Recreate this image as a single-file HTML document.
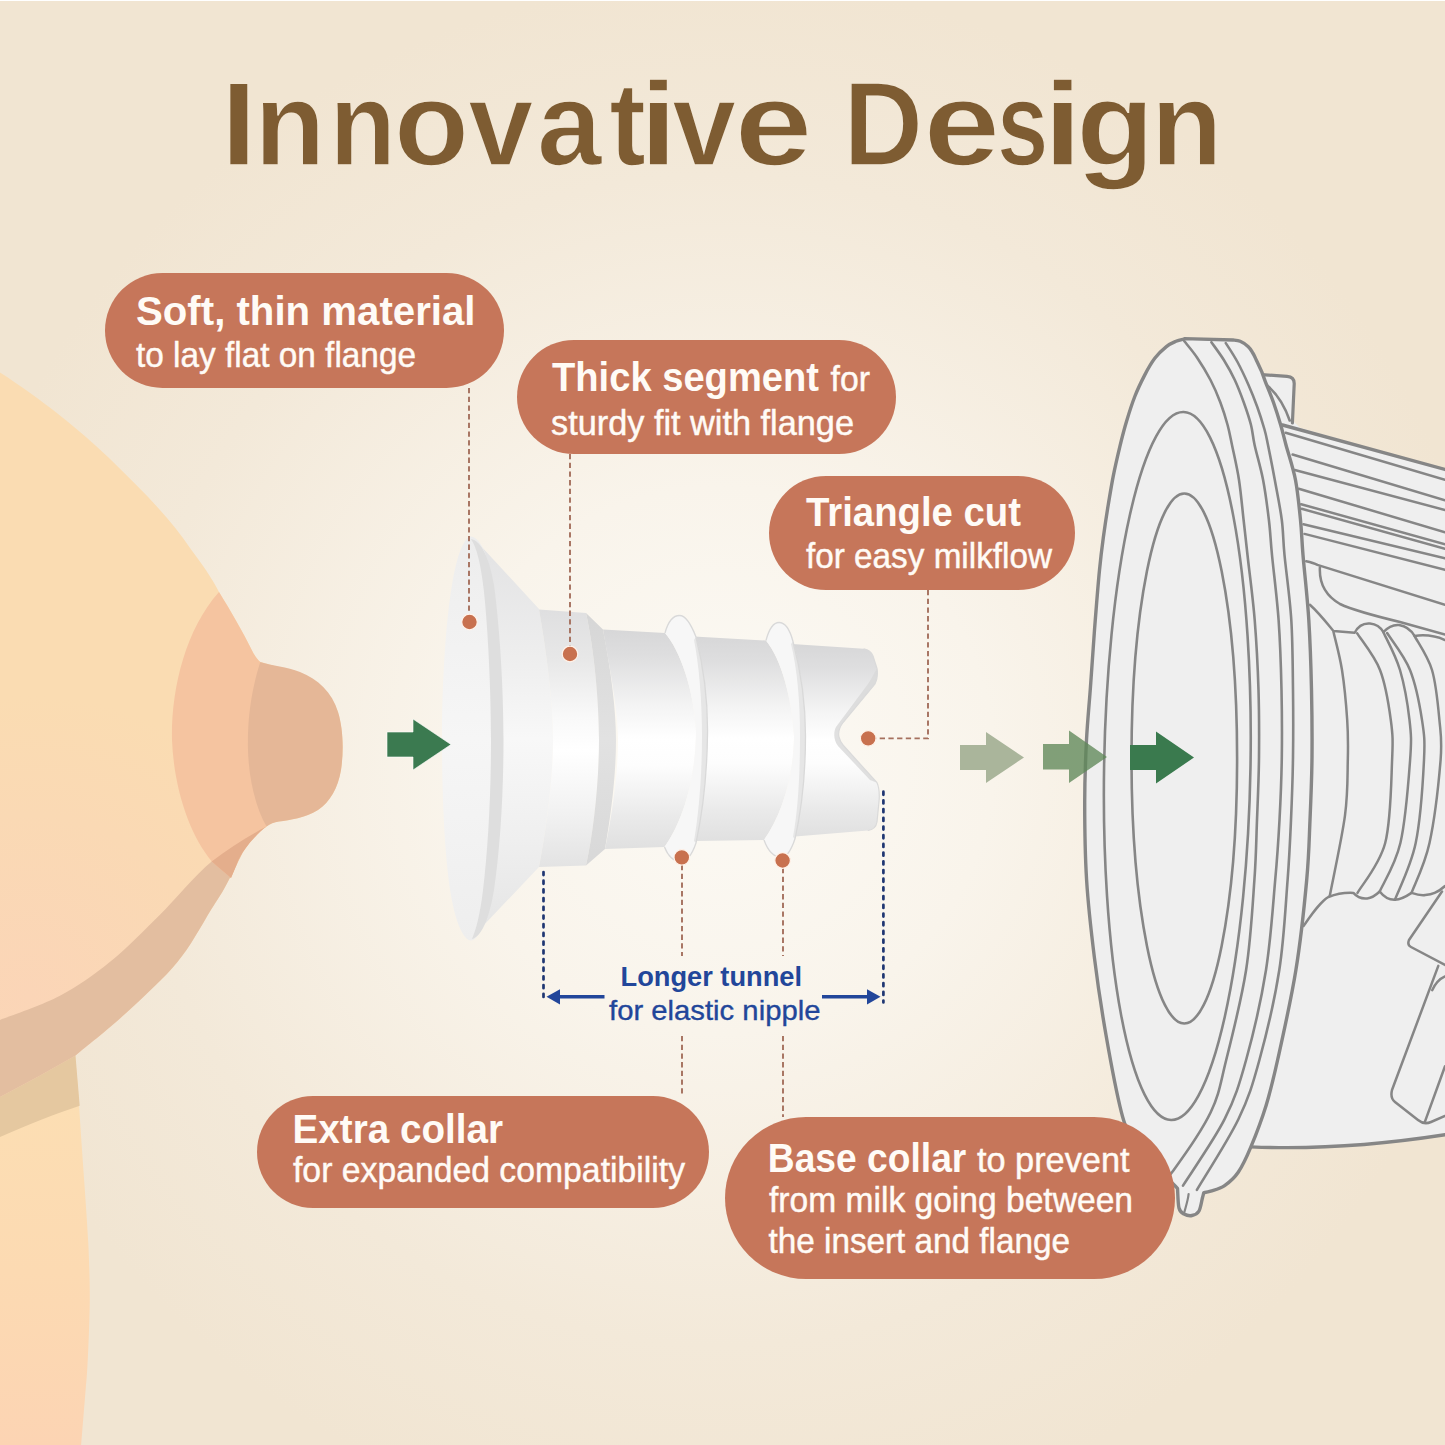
<!DOCTYPE html>
<html><head><meta charset="utf-8">
<style>
html,body{margin:0;padding:0;width:1445px;height:1445px;overflow:hidden;background:#F1E6D3;}
svg{display:block;font-family:"Liberation Sans",sans-serif;}
</style></head>
<body>
<svg width="1445" height="1445" viewBox="0 0 1445 1445">
<defs>
  <radialGradient id="bg" cx="720" cy="760" r="780" gradientUnits="userSpaceOnUse">
    <stop offset="0" stop-color="#FCFAF5"/>
    <stop offset="0.35" stop-color="#F9F4EB"/>
    <stop offset="0.75" stop-color="#F3E9D9"/>
    <stop offset="1" stop-color="#F1E5D2"/>
  </radialGradient>
  <radialGradient id="brg" cx="30" cy="995" r="300" gradientUnits="userSpaceOnUse">
    <stop offset="0" stop-color="#FBD5B7"/>
    <stop offset="0.6" stop-color="#FAD9B4"/>
    <stop offset="1" stop-color="#FADCB2"/>
  </radialGradient>
  <linearGradient id="torsoG" x1="0" y1="1100" x2="0" y2="1445" gradientUnits="userSpaceOnUse">
    <stop offset="0" stop-color="#FCDEB3"/>
    <stop offset="0.5" stop-color="#FCDAB2"/>
    <stop offset="1" stop-color="#FCD4B3"/>
  </linearGradient>
  <linearGradient id="tubeG" x1="0" y1="0" x2="0" y2="1">
    <stop offset="0" stop-color="#D7D7D8"/>
    <stop offset="0.12" stop-color="#DEDEDF"/>
    <stop offset="0.35" stop-color="#F4F4F4"/>
    <stop offset="0.5" stop-color="#FFFFFF"/>
    <stop offset="0.62" stop-color="#FDFDFD"/>
    <stop offset="0.85" stop-color="#EAEAEA"/>
    <stop offset="1" stop-color="#E0E0E0"/>
  </linearGradient>
  <linearGradient id="thickG" x1="0" y1="0" x2="0" y2="1">
    <stop offset="0" stop-color="#DFDFE0"/>
    <stop offset="0.2" stop-color="#E8E8E8"/>
    <stop offset="0.42" stop-color="#F9F9F9"/>
    <stop offset="0.55" stop-color="#FFFFFF"/>
    <stop offset="0.8" stop-color="#F1F1F1"/>
    <stop offset="1" stop-color="#E3E3E3"/>
  </linearGradient>
  <linearGradient id="chamG" x1="0" y1="0" x2="0" y2="1">
    <stop offset="0" stop-color="#D6D6D6"/>
    <stop offset="0.5" stop-color="#E2E2E2"/>
    <stop offset="1" stop-color="#D8D8D8"/>
  </linearGradient>
  <linearGradient id="coneG" x1="0" y1="0" x2="0" y2="1">
    <stop offset="0" stop-color="#E2E2E3"/>
    <stop offset="0.3" stop-color="#EEEEEE"/>
    <stop offset="0.5" stop-color="#F8F8F8"/>
    <stop offset="0.75" stop-color="#EFEFEF"/>
    <stop offset="1" stop-color="#E4E4E4"/>
  </linearGradient>
  <linearGradient id="faceG" x1="0" y1="0" x2="0" y2="1">
    <stop offset="0" stop-color="#EDEDED"/>
    <stop offset="0.5" stop-color="#F6F6F6"/>
    <stop offset="1" stop-color="#EEEEEE"/>
  </linearGradient>
</defs>
<rect x="0" y="0" width="1445" height="1445" fill="url(#bg)"/>
<rect x="0" y="0" width="1445" height="1" fill="#FFFFFF"/>

<!-- BREAST -->
<g id="breast">
  <!-- torso strip -->
  <path d="M0,1000 L74.7,1050 L78.8,1100 C81,1140 86,1200 88.3,1243.2 C90,1280 90,1300 89.5,1314.8 C88.5,1350 87,1380 85.9,1386.4 L81.1,1445 L0,1445 Z" fill="url(#torsoG)"/>
  <path d="M0,1090 L75,1050 L79.7,1105.8 C55,1114 30,1124 0,1137 Z" fill="#E5C8A0"/>
  <!-- breast main -->
  <path id="brs" d="M0,372.4 C40,398 80,430 108,457 C140,488 170,518 190,548 C202,564 212,578 219,592
     C230,610 243,632 251.6,649.7 C254,655 257,659 260.3,662.1
     C272,665 286,669 300,674 C318,681 332,694 338,712 C343,728 344,750 341,770 C338,788 330,802 318,810 C305,818 290,820 279,821.6 C274,822.5 270,824 266.6,826.6 C263.8,828.8 254.9,833.8 250.0,840.0 C245.1,846.2 241.3,855.8 237.0,864.0 C232.7,872.2 228.6,881.0 224.0,889.0 C219.4,897.0 215.0,903.2 209.5,912.3 C204.0,921.4 197.0,934.1 190.8,943.4 C184.6,952.7 179.4,960.0 172.1,968.3 C164.8,976.6 156.5,984.3 147.2,993.2 C137.8,1002.1 128.1,1011.4 116.0,1021.9 C103.9,1032.4 81.6,1050.3 74.7,1056.0
     C50,1070 25,1084 0,1097 Z" fill="url(#brg)"/>
  <!-- shadow band -->
  <path id="shband" d="M266.6,826.6 C263.8,828.8 254.9,833.8 250.0,840.0 C245.1,846.2 241.3,855.8 237.0,864.0 C232.7,872.2 228.6,881.0 224.0,889.0 C219.4,897.0 215.0,903.2 209.5,912.3 C204.0,921.4 197.0,934.1 190.8,943.4 C184.6,952.7 179.4,960.0 172.1,968.3 C164.8,976.6 156.5,984.3 147.2,993.2 C137.8,1002.1 128.1,1011.4 116.0,1021.9 C103.9,1032.4 81.6,1050.3 74.7,1056.0 C50,1070 25,1084 0,1097 L0,1019.9 C10.0,1015.9 41.7,1005.3 60.0,995.7 C78.3,986.1 93.2,975.6 109.8,962.1 C126.4,948.6 142.7,931.8 159.7,915.0 C176.7,898.2 194.2,875.9 212.0,861.2 C229.8,846.5 257.5,832.4 266.6,826.6 Z" fill="#E3BEA0"/>
  <!-- areola -->
  <clipPath id="areolaClip"><path id="areolaP" d="M219,592 C230,610 243,632 251.6,649.7 C254,655 257,659 260.3,662.1 L266.6,826.6 C259,832 243,848 237,864 L231,878 C224,872 217,866 211.8,861.4 C190,835 174,790 172,740 C171,690 185,630 219,592 Z"/></clipPath>
  <use href="#areolaP" fill="#F5C4A0"/>
  <path d="M266.6,826.6 C259,832 243,848 237,864 L231,880 L200,880 L200,861 C205,861 210,861 212,861.2 C230,848 248,836 266.6,826.6 Z" fill="#E4AE8C" clip-path="url(#areolaClip)"/>
  <!-- nipple -->
  <path d="M260.3,662.1 C272,666 287,667 300,672 C318,679 332,692 338,712 C343,728 344,750 341,770 C338,788 330,802 318,810 C305,818 290,820 279,821.6 C274,822.5 270,824 266.6,826.6
     C256,808 248.5,780 247.9,746.8 C247.5,712 253,685 260.3,662.1 Z" fill="#E5B797"/>
</g>

<!-- INSERT -->
<g id="insert">
  <!-- flange cone outer surface -->
  <path d="M471,537 C474,538 477,541 480,545 L539,609 C546,650 553,700 553,740 C553,780 546,830 539,867 L482,927 C478,934 474,940 471,940 Z" fill="url(#coneG)"/>
  <!-- flange rim face (ellipse) -->
  <path d="M471,536.5 C478,537 486,548 491,575 C498,620 502,690 502,740 C502,800 497,860 490,900 C485,925 478,940 471,940.5 C464,940 456,925 451,895 C445,860 442,800 442,740 C442,680 446,620 452,585 C457,555 464,537 471,536.5 Z" fill="url(#faceG)"/>
  <!-- rim back band -->
  <path d="M471,539 C481,541 489,556 494,585 C500,630 503.5,690 503.5,740 C503.5,795 500,850 494,890 C489,920 481,937 472,939 C476,930 480,915 483,890 C488,850 491,795 491,740 C491,690 488,630 484,592 C481,565 477,548 471,539 Z" fill="#DEDEDE"/>
  <!-- thick segment -->
  <path d="M539,609.5 L586,613 C594,650 599,700 599,740 C599,780 594,830 586,865.5 L539,867 C546,830 553,780 553,740 C553,700 546,650 539,609.5 Z" fill="url(#thickG)"/>
  <!-- chamfer band -->
  <path d="M586,613 L603,629.5 C611,670 616,710 616,740 C616,775 611,815 605,849 L586,865.5 C594,830 599,780 599,740 C599,700 594,650 586,613 Z" fill="url(#chamG)"/>
  <!-- tube 1 -->
  <path d="M603,629.5 L665,633 C680,650 694,690 696,731 C696,775 684,820 664.5,847 L605,849 C612,815 618,775 618,740 C618,710 610,670 603,629.5 Z" fill="url(#tubeG)"/>
  <!-- tube 2 -->
  <path d="M694,636.5 L766,640.5 C782,660 792,700 794,736 C794,775 782,815 764,840 L695,841 C703,810 707,775 707.5,735 C708,700 702,665 694,636.5 Z" fill="url(#tubeG)"/>
  <!-- tube 3 tip with triangle cut -->
  <path d="M792,644 L863.7,648.8 C868,649.5 871,651 873,656 L877,668.5 C878,675 877,680 875,684 L843,722.5 C839,728 838,733 839,737 C840,741 841,743 843,745 L877,782.7 C879,787 879.5,793 879.2,799.3 L877,822 C876,828 872,830 867.8,830.5 L792,836.7 C800,810 805,775 805.5,738 C805.5,700 800,665 792,644 Z" fill="url(#tubeG)"/>
  <!-- notch inner shade -->
  <path d="M877,668.5 C878,675 877,680 875,684 L843,722.5 C839,728 838,733 839,737 C840,741 841,743 843,745 L877,782.7 L870,780 L838,746 C834,741 833,733 836,727 L868,684 C872,678 874,673 877,668.5 Z" fill="#D8D8D8" opacity="0.8"/>
  <!-- collar 1 -->
  <path d="M665,633 C668,622 673,615.5 679.5,615.5 C686,615.5 691,624 696,637 C703,665 708,700 707.5,735 C707,775 702,815 696,843 C692,855 686,861.5 680,861.5 C673,861 668,856 664.5,847 C684,820 696,775 696,731 C694,690 680,650 665,633 Z" fill="#F7F7F7"/>
  <path d="M696,637 C703,665 708,700 707.5,735 C707,775 702,815 696,843 L694,841 C699,812 702,775 702,735 C702,700 699,665 694,640 Z" fill="#E6E6E6"/>
  <!-- collar 2 -->
  <path d="M766,640.5 C769,629 773,622.5 779,622.5 C785,622.5 790,630 793,641.5 C800,668 805.5,700 805.5,736 C805.5,775 801,812 795,838.8 C791,851 786,857.5 781,857.5 C774,857 768,851 764,840 C782,815 794,775 794,736 C792,700 782,660 766,640.5 Z" fill="#F7F7F7"/>
  <path d="M793,641.5 C800,668 805.5,700 805.5,736 C805.5,775 801,812 795,838.8 L793,837 C798,810 800,775 800,736 C800,700 797,668 791,644 Z" fill="#E6E6E6"/>
  <!-- collar outlines -->
  <path d="M665,633 C668,622 673,615.5 679.5,615.5 C686,615.5 691,624 696,637 C703,665 708,700 707.5,735 C707,775 702,815 696,843 C692,855 686,861.5 680,861.5 C673,861 668,856 664.5,847" fill="none" stroke="#D9D9D9" stroke-width="1.3"/>
  <path d="M766,640.5 C769,629 773,622.5 779,622.5 C785,622.5 790,630 793,641.5 C800,668 805.5,700 805.5,736 C805.5,775 801,812 795,838.8 C791,851 786,857.5 781,857.5 C774,857 768,851 764,840" fill="none" stroke="#D9D9D9" stroke-width="1.3"/>
  <path d="M863.7,648.8 C868,649.5 871,651 873,656 L877,668.5 C878,675 877,680 875,684 L843,722.5 C839,728 838,733 839,737 C840,741 841,743 843,745 L877,782.7 C879,787 879.5,793 879.2,799.3 L877,822 C876,828 872,830 867.8,830.5" fill="none" stroke="#DADADA" stroke-width="1.2"/>
</g>

<!-- PUMP -->
<g id="pump" stroke="#868686" stroke-linejoin="round" stroke-linecap="round">
<path d="M1250,372 L1294,378 L1293,421 L1300,427.7 L1445,469.4 L1445,1135 C1400,1142 1320,1150 1250,1147 Z" fill="#EFEFEF" stroke="none"/>
<path d="M1258,374.3 L1287,376.4 Q1294.5,377 1294.2,384 L1292.4,423 L1270,423 Z" fill="#EFEFEF" stroke="none"/>
<path d="M1258,374.3 L1287,376.4 Q1294.5,377 1294.2,384 L1292.4,423" fill="none" stroke-width="3.2"/>
<path d="M1267.2,385.4 Q1282,398 1289.7,420.5" fill="none" stroke-width="2.6"/>
<path d="M1282.5,425 L1445,469.4" fill="none" stroke-width="3.4"/>
<path d="M1250.9,1146.9 C1300,1149 1360,1148 1445,1134.8" fill="none" stroke-width="3.4"/>
<path d="M1285.7,432.8 L1445.0,479.7 M1292.6,454.5 L1445.0,500.2 M1294.8,470.0 L1445.0,510.0 M1298.8,488.8 L1445.0,532.2 M1301.1,504.2 L1445.0,544.2 M1301.7,508.8 L1445.0,548.7 M1303.4,524.2 L1445.0,558.4 M1304.5,533.9 L1445.0,569.9" fill="none" stroke-width="2.5"/>
<path d="M1306.2,561.2 C1310,562 1314,563 1317.4,564.9 L1445,604.8" fill="none" stroke-width="2.5"/>
<path d="M1319.9,567.4 C1319,585 1326,596 1340,604 C1355,611 1375,616 1400,622 L1445,634.6" fill="none" stroke-width="2.5"/>
<path d="M1309.9,604.8 C1318,612 1326,622 1333.5,631 L1354.7,632.8 C1358,626 1364,623 1370,623.5 C1376,624 1381,628 1383.4,632.2 C1388,627 1393,624.5 1399,625 C1406,626 1411,630 1414.5,635.9 C1425,634.5 1435,635.5 1445,640" fill="none" stroke-width="2.5"/>
<path d="M1303.5,926 C1312,914 1320,902 1328.4,897 C1336,894 1346,892.5 1353.4,892.9 C1357,897 1362,899 1367.2,898.4 C1372,898 1376,895 1379.7,891.5 C1384,897 1389,900 1394.9,899.8 C1401,899.5 1407,896 1411.5,892.9 C1418,895 1422,895.5 1425.3,895 C1432,894.5 1437,893 1445,886" fill="none" stroke-width="2.5"/>
<path d="M1333.5,632.0 C1334.9,638.3 1339.7,655.3 1342.0,670.0 C1344.3,684.7 1346.2,705.0 1347.2,720.0 C1348.2,735.0 1348.2,744.1 1347.8,760.0 C1347.4,775.9 1348.0,792.8 1345.0,815.4 C1342.0,838.0 1332.3,882.3 1329.8,895.7" fill="none" stroke-width="2.5"/>
<path d="M1357.2,633.4 C1361.0,639.5 1374.4,655.6 1380.0,670.0 C1385.6,684.4 1388.8,705.0 1390.8,720.0 C1392.8,735.0 1393.0,739.5 1392.1,760.0 C1391.2,780.5 1391.0,820.9 1385.2,843.0 C1379.4,865.1 1362.1,884.6 1357.5,892.9" fill="none" stroke-width="2.5"/>
<path d="M1383.4,632.2 C1386.2,638.5 1395.7,655.4 1400.0,670.0 C1404.3,684.6 1407.8,705.0 1409.5,720.0 C1411.2,735.0 1411.6,739.5 1410.1,760.0 C1408.6,780.5 1405.5,821.1 1400.4,843.0 C1395.3,864.9 1383.2,883.4 1379.7,891.5" fill="none" stroke-width="2.5"/>
<path d="M1387.1,633.0 C1390.9,639.2 1404.2,655.5 1410.0,670.0 C1415.8,684.5 1419.7,705.0 1422.0,720.0 C1424.3,735.0 1425.0,739.5 1424.0,760.0 C1423.0,780.5 1420.5,819.7 1415.7,843.0 C1410.9,866.3 1398.4,890.3 1394.9,899.8" fill="none" stroke-width="2.5"/>
<path d="M1414.5,635.9 C1417.4,641.6 1427.8,656.0 1432.0,670.0 C1436.2,684.0 1438.0,705.0 1439.4,720.0 C1440.8,735.0 1442.2,739.5 1440.6,760.0 C1438.9,780.5 1434.3,820.9 1429.5,843.0 C1424.7,865.1 1414.5,884.6 1411.5,892.9" fill="none" stroke-width="2.5"/>
<path d="M1442,891.5 L1409,940 Q1407,945 1411,947 L1445,965" fill="none" stroke-width="2.5"/>
<path d="M1438.3,965.9 L1392,1090 Q1390,1098 1395,1102 L1418,1120 Q1424,1125 1431,1122 L1445,1116" fill="none" stroke-width="2.5"/>
<path d="M1424.6,1122.6 L1445,1066.3" fill="none" stroke-width="2.5"/>
<path d="M1432.2,990.2 Q1437,980 1445,976.5" fill="none" stroke-width="2.5"/>
<path d="M1184.4,338.6 L1233,340 C1234.2,340.2 1237.7,340.2 1240.2,341.3 C1242.8,342.4 1246.2,344.8 1248.3,346.7 C1250.4,348.6 1251.4,350.8 1252.8,353.0 C1254.2,355.2 1254.9,357.1 1256.4,360.2 C1257.9,363.3 1260.9,369.9 1261.8,371.9 C1262.4,373.5 1263.5,376.7 1265.4,381.8 C1267.4,386.9 1271.0,395.3 1273.5,402.5 C1276.0,409.7 1278.6,417.9 1280.7,425.0 C1282.8,432.1 1283.5,435.8 1286.0,445.0 C1288.5,454.2 1293.1,467.5 1295.5,480.0 C1297.9,492.5 1299.2,507.5 1300.5,520.0 C1301.8,532.5 1301.6,538.3 1303.0,555.0 C1304.4,571.7 1307.4,597.5 1308.8,620.0 C1310.2,642.5 1311.0,667.2 1311.5,690.0 C1312.0,712.8 1312.2,735.3 1312.0,757.0 C1311.8,778.7 1310.9,799.5 1310.0,820.0 C1309.1,840.5 1309.0,855.0 1306.7,880.0 C1304.4,905.0 1300.8,940.0 1295.9,970.0 C1291.1,1000.0 1282.6,1037.4 1277.6,1060.0 C1272.6,1082.6 1270.5,1090.9 1266.1,1105.4 C1261.6,1119.9 1255.5,1135.8 1250.9,1146.9 C1246.3,1158.0 1242.8,1165.5 1238.4,1172.0 C1234.0,1178.5 1229.2,1182.4 1224.6,1185.6 C1220.0,1188.8 1214.2,1190.0 1210.7,1191.2 C1207.2,1192.4 1205.0,1192.4 1203.8,1192.6 C1203.6,1193.5 1203.2,1194.9 1202.4,1198.0 C1201.6,1201.1 1200.7,1208.1 1199.0,1211.0 C1197.3,1213.9 1194.5,1215.0 1192.0,1215.5 C1189.5,1216.0 1186.2,1215.2 1184.0,1214.0 C1181.8,1212.8 1180.1,1212.3 1179.0,1208.0 C1177.9,1203.7 1177.8,1191.7 1177.5,1188.4 C1172.9,1183.7 1157.6,1168.7 1150.0,1160.0 C1142.4,1151.3 1136.8,1143.9 1132.0,1136.0 C1127.2,1128.1 1125.8,1129.4 1121.5,1112.6 C1117.2,1095.8 1110.5,1060.8 1106.0,1035.0 C1101.5,1009.2 1097.6,983.4 1094.4,957.6 C1091.2,931.8 1088.2,905.8 1086.6,880.0 C1085.0,854.2 1084.7,825.9 1084.7,802.6 C1084.7,779.3 1085.5,759.4 1086.5,740.0 C1087.5,720.6 1089.2,704.6 1090.5,686.3 C1091.8,668.0 1093.0,649.4 1094.5,630.0 C1096.0,610.6 1098.0,585.4 1099.5,570.0 C1101.0,554.6 1101.8,548.6 1103.3,537.7 C1104.8,526.8 1106.6,514.7 1108.3,504.5 C1110.0,494.3 1111.3,486.0 1113.2,476.3 C1115.1,466.6 1117.7,455.5 1119.9,446.3 C1122.1,437.1 1124.0,429.7 1126.5,421.4 C1129.0,413.1 1131.8,404.2 1134.8,396.5 C1137.8,388.8 1141.5,381.3 1144.8,374.9 C1148.1,368.5 1151.2,363.0 1154.8,358.3 C1158.4,353.6 1162.9,349.4 1166.4,346.6 C1169.9,343.8 1173.0,342.6 1176.0,341.3 C1179.0,340.0 1183.0,339.4 1184.4,339.0 Z" fill="#EFEFEF" stroke-width="3.4"/>
<path d="M1184.4,341.3 C1186.5,344.0 1192.7,351.1 1197.0,357.5 C1201.3,363.9 1206.6,372.5 1210.5,380.0 C1214.4,387.5 1217.6,395.0 1220.4,402.5 C1223.2,410.0 1225.7,417.9 1227.6,425.0 C1229.5,432.1 1230.1,435.8 1232.0,445.0 C1233.9,454.2 1237.1,467.5 1239.0,480.0 C1240.9,492.5 1242.2,507.5 1243.6,520.0 C1245.0,532.5 1245.7,538.3 1247.5,555.0 C1249.3,571.7 1252.9,597.5 1254.7,620.0 C1256.5,642.5 1257.8,667.2 1258.5,690.0 C1259.2,712.8 1259.2,735.3 1259.0,757.0 C1258.8,778.7 1257.8,799.5 1257.0,820.0 C1256.2,840.5 1256.2,855.0 1254.4,880.0 C1252.6,905.0 1250.8,940.0 1246.1,970.0 C1241.4,1000.0 1232.1,1036.3 1226.2,1060.0 C1220.3,1083.7 1219.5,1093.9 1210.7,1112.3 C1201.9,1130.7 1181.9,1158.8 1173.4,1170.4 C1165.0,1182.0 1162.2,1180.1 1160.0,1182.0" fill="none" stroke-width="2.6"/>
<path d="M1211.4,342.2 C1213.5,345.2 1220.1,353.9 1224.0,360.2 C1227.9,366.5 1231.5,372.9 1234.8,380.0 C1238.1,387.1 1241.1,395.0 1243.8,402.5 C1246.5,410.0 1249.2,417.9 1251.0,425.0 C1252.8,432.1 1252.6,435.8 1254.6,445.0 C1256.6,454.2 1260.7,467.5 1263.1,480.0 C1265.5,492.5 1267.4,507.5 1268.9,520.0 C1270.4,532.5 1270.4,538.3 1272.0,555.0 C1273.6,571.7 1277.0,597.5 1278.6,620.0 C1280.2,642.5 1281.0,667.2 1281.5,690.0 C1282.0,712.8 1282.1,735.3 1281.8,757.0 C1281.5,778.7 1280.6,799.5 1279.5,820.0 C1278.4,840.5 1277.5,855.0 1275.2,880.0 C1273.0,905.0 1270.8,940.0 1266.0,970.0 C1261.2,1000.0 1253.0,1035.1 1246.1,1060.0 C1239.2,1084.9 1235.1,1098.3 1224.6,1119.2 C1214.1,1140.1 1189.9,1174.5 1183.0,1185.6" fill="none" stroke-width="2.6"/>
<path d="M1225.8,343.1 C1227.8,346.2 1233.8,355.1 1237.5,362.0 C1241.2,368.9 1245.0,377.0 1248.3,384.5 C1251.6,392.0 1254.6,399.5 1257.3,407.0 C1260.0,414.5 1262.7,423.2 1264.5,429.5 C1266.3,435.8 1266.3,436.6 1268.0,445.0 C1269.7,453.4 1272.5,467.5 1274.8,480.0 C1277.1,492.5 1280.2,507.5 1281.8,520.0 C1283.4,532.5 1282.9,538.3 1284.5,555.0 C1286.1,571.7 1289.9,597.5 1291.3,620.0 C1292.7,642.5 1292.7,667.2 1293.0,690.0 C1293.3,712.8 1293.3,735.3 1293.0,757.0 C1292.7,778.7 1291.9,799.5 1291.0,820.0 C1290.1,840.5 1289.5,855.0 1287.6,880.0 C1285.6,905.0 1284.0,940.0 1279.3,970.0 C1274.6,1000.0 1266.2,1035.1 1259.4,1060.0 C1252.6,1084.9 1248.8,1097.6 1238.4,1119.2 C1228.0,1140.8 1203.8,1178.0 1196.9,1189.8" fill="none" stroke-width="2.6"/>
<ellipse cx="1177.3" cy="766" rx="73.2" ry="354" transform="rotate(1 1177.3 766)" fill="none" stroke-width="2.6"/>
<ellipse cx="1184.3" cy="758.5" rx="52.8" ry="265" fill="none" stroke-width="2.6"/>
<path d="M1188.6,1194 C1188,1200 1186,1206 1184.4,1212" fill="none" stroke-width="2.2"/>
</g>

<!-- ARROWS -->
<g id="arrows">
  <path d="M387,732 H413 V719 L451,744.5 L413,770 V757 H387 Z" fill="#3B7A50" stroke="#FFFFFF" stroke-width="1" stroke-opacity="0.6"/>
  <path d="M960,745 H986 V732 L1024,757.5 L986,783 V770 H960 Z" fill="#AAB59B"/>
  <path d="M1043,744 H1069 V730.5 L1107,757 L1069,783 V769.5 H1043 Z" fill="#5F8858" opacity="0.78"/>
  <path d="M1130,745 H1156 V731.5 L1194,757.5 L1156,783.5 V770 H1130 Z" fill="#3A7A4E"/>
</g>

<!-- LEADERS -->
<g id="leaders">
  <g stroke="#A5705E" stroke-width="1.9" stroke-dasharray="5.3 3.4" fill="none">
    <path d="M469,388 V614"/>
    <path d="M570,454 V646"/>
    <path d="M928,590 V738.4 H876"/>
    <path d="M682,865 V956"/>
    <path d="M682,1036 V1096"/>
    <path d="M783,868 V956"/>
    <path d="M783,1036 V1117"/>
  </g>
  <g stroke="#1F3672" stroke-width="2.7" stroke-dasharray="3.1 5.6" stroke-linecap="round" fill="none">
    <path d="M543.5,872 V999"/>
    <path d="M883.4,791.7 V1002.5"/>
  </g>
  <g fill="#C8714F" stroke="#FFF3EA" stroke-width="1.2">
    <circle cx="469.5" cy="622" r="7.8"/>
    <circle cx="570" cy="654" r="7.8"/>
    <circle cx="868.2" cy="738.4" r="7.8"/>
    <circle cx="681.8" cy="857.4" r="7.8"/>
    <circle cx="782.6" cy="860.5" r="7.8"/>
  </g>
  <!-- tunnel arrows -->
  <g fill="#22469A" stroke="#22469A">
    <path d="M556,996.8 H604.5" stroke-width="3.6" fill="none"/>
    <path d="M546.5,996.8 L560,989.2 L560,1004.4 Z" stroke="none"/>
    <path d="M822,996.8 H870" stroke-width="3.6" fill="none"/>
    <path d="M880.5,996.8 L867,989.2 L867,1004.4 Z" stroke="none"/>
  </g>
</g>

<!-- BUBBLES -->
<g id="bubbles" fill="#C6765A">
  <rect x="105" y="273" width="399" height="115" rx="57.5"/>
  <rect x="517" y="340" width="379" height="114" rx="57"/>
  <rect x="769" y="476" width="306" height="114" rx="57"/>
  <rect x="257" y="1096" width="452" height="112" rx="56"/>
  <rect x="725" y="1117" width="450" height="162" rx="81"/>
</g>

<!-- TITLE -->
<g class="txt" font-size="119" font-weight="700" fill="#7E5C32" stroke="url(#bg)" stroke-width="1.6">
  <text x="220.7" y="165.3" textLength="36.1" lengthAdjust="spacingAndGlyphs">I</text>
  <text x="254.5" y="165.3" textLength="70.7" lengthAdjust="spacingAndGlyphs">n</text>
  <text x="329.4" y="165.3" textLength="66.4" lengthAdjust="spacingAndGlyphs">n</text>
  <text x="393.9" y="165.3" textLength="75.0" lengthAdjust="spacingAndGlyphs">o</text>
  <text x="468.2" y="165.3" textLength="65.1" lengthAdjust="spacingAndGlyphs">v</text>
  <text x="537.0" y="165.3" textLength="64.7" lengthAdjust="spacingAndGlyphs">a</text>
  <text x="609.2" y="165.3" textLength="36.7" lengthAdjust="spacingAndGlyphs">t</text>
  <text x="639.6" y="165.3" textLength="37.9" lengthAdjust="spacingAndGlyphs">i</text>
  <text x="672.2" y="165.3" textLength="63.8" lengthAdjust="spacingAndGlyphs">v</text>
  <text x="734.5" y="165.3" textLength="77.9" lengthAdjust="spacingAndGlyphs">e</text>
  <text x="843.6" y="165.3" textLength="79.5" lengthAdjust="spacingAndGlyphs">D</text>
  <text x="923.6" y="165.3" textLength="76.6" lengthAdjust="spacingAndGlyphs">e</text>
  <text x="996.9" y="165.3" textLength="51.3" lengthAdjust="spacingAndGlyphs">s</text>
  <text x="1042.9" y="165.3" textLength="39.5" lengthAdjust="spacingAndGlyphs">i</text>
  <text x="1076.2" y="165.3" textLength="78.1" lengthAdjust="spacingAndGlyphs">g</text>
  <text x="1151.1" y="165.3" textLength="71.4" lengthAdjust="spacingAndGlyphs">n</text>
</g>

<!-- BUBBLE TEXT -->
<g class="txt" fill="#FFFBF6">
  <text x="136" y="324.5" font-size="41" font-weight="700" textLength="339.5" lengthAdjust="spacingAndGlyphs">Soft, thin material</text>
  <text x="136" y="367" font-size="34.5" stroke="#FFFBF6" stroke-width="0.45" textLength="280" lengthAdjust="spacingAndGlyphs">to lay flat on flange</text>
  <text x="552" y="391" font-size="41" font-weight="700" textLength="267" lengthAdjust="spacingAndGlyphs">Thick segment</text>
  <text x="830.6" y="391" font-size="34.5" stroke="#FFFBF6" stroke-width="0.45" textLength="39.4" lengthAdjust="spacingAndGlyphs">for</text>
  <text x="551" y="435" font-size="34.5" stroke="#FFFBF6" stroke-width="0.45" textLength="303" lengthAdjust="spacingAndGlyphs">sturdy fit with flange</text>
  <text x="806" y="525.5" font-size="41" font-weight="700" textLength="215" lengthAdjust="spacingAndGlyphs">Triangle cut</text>
  <text x="806" y="568" font-size="34.5" stroke="#FFFBF6" stroke-width="0.45" textLength="246" lengthAdjust="spacingAndGlyphs">for easy milkflow</text>
  <text x="292.6" y="1142.5" font-size="41" font-weight="700" textLength="210.5" lengthAdjust="spacingAndGlyphs">Extra collar</text>
  <text x="293" y="1182" font-size="34.5" stroke="#FFFBF6" stroke-width="0.45" textLength="392" lengthAdjust="spacingAndGlyphs">for expanded compatibility</text>
  <text x="767.8" y="1171.5" font-size="41" font-weight="700" textLength="198.5" lengthAdjust="spacingAndGlyphs">Base collar</text>
  <text x="977" y="1171.5" font-size="34.5" stroke="#FFFBF6" stroke-width="0.45" textLength="152.5" lengthAdjust="spacingAndGlyphs">to prevent</text>
  <text x="769" y="1212" font-size="34.5" stroke="#FFFBF6" stroke-width="0.45" textLength="364" lengthAdjust="spacingAndGlyphs">from milk going between</text>
  <text x="768.5" y="1252.5" font-size="34.5" stroke="#FFFBF6" stroke-width="0.45" textLength="301.5" lengthAdjust="spacingAndGlyphs">the insert and flange</text>
</g>
<g class="txt" fill="#22469A">
  <text x="620.5" y="986.3" font-size="27.5" font-weight="700" textLength="181.5" lengthAdjust="spacingAndGlyphs">Longer tunnel</text>
  <text x="609" y="1020.3" font-size="28" stroke="#22469A" stroke-width="0.35" textLength="211.5" lengthAdjust="spacingAndGlyphs">for elastic nipple</text>
</g>
</svg>
</body></html>
